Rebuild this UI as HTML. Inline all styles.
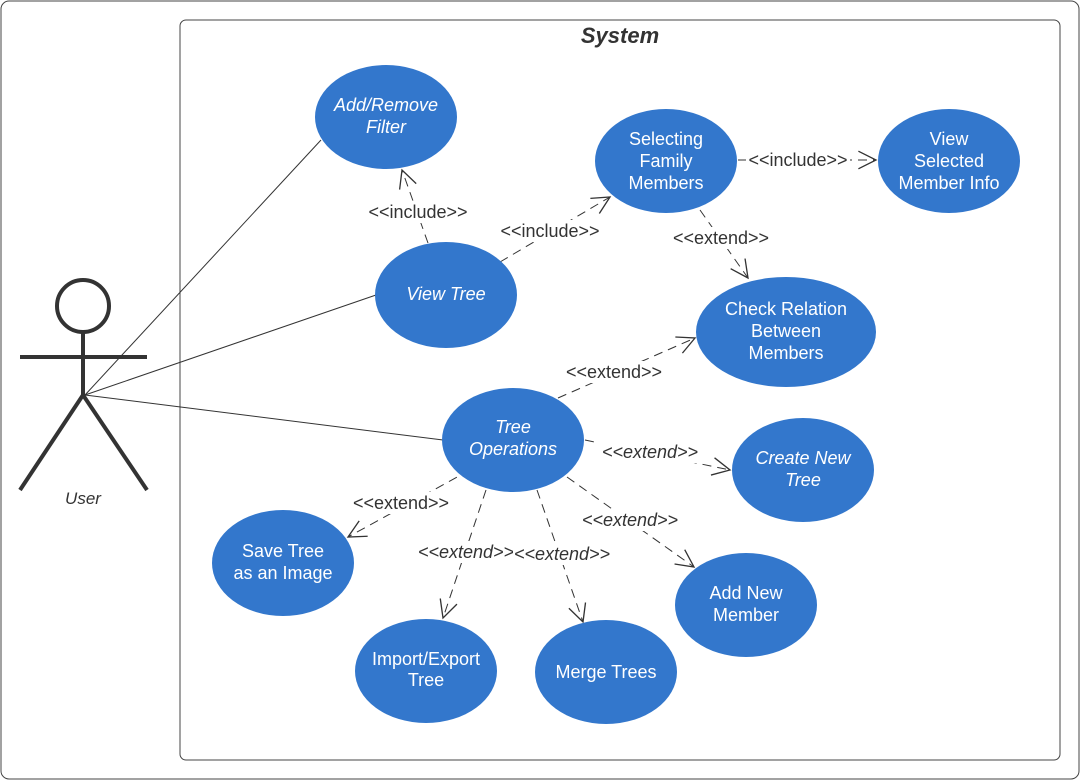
<!DOCTYPE html>
<html><head><meta charset="utf-8"><style>
html,body{margin:0;padding:0;background:#fff;}
svg{display:block;}
text{font-family:"Liberation Sans",sans-serif;}
</style></head><body>
<svg width="1080" height="780" viewBox="0 0 1080 780" xmlns="http://www.w3.org/2000/svg">
<defs>
<marker id="ar" viewBox="0 0 20 20" refX="18" refY="10" markerWidth="22" markerHeight="22" markerUnits="userSpaceOnUse" orient="auto">
<path d="M2,2 L18,10 L2,18" fill="none" stroke="#333" stroke-width="1.2"/>
</marker>
</defs>
<rect x="1" y="1" width="1078" height="778" rx="8" fill="#fff" stroke="#444" stroke-width="1"/>
<rect x="180" y="20" width="880" height="740" rx="6" fill="#fff" stroke="#444" stroke-width="1"/>
<text x="620" y="43" text-anchor="middle" font-size="22" font-weight="bold" font-style="italic" fill="#333">System</text>

<g stroke="#333" stroke-width="4" fill="none">
<circle cx="83" cy="306" r="26" fill="#fff"/>
<line x1="83" y1="332" x2="83" y2="395"/>
<line x1="20" y1="357" x2="147" y2="357"/>
<line x1="83" y1="395" x2="20" y2="490"/>
<line x1="83" y1="395" x2="147" y2="490"/>
</g>
<text x="83" y="504" text-anchor="middle" font-size="17" font-style="italic" fill="#333">User</text>

<g stroke="#333" stroke-width="1">
<line x1="85" y1="395" x2="321" y2="140"/>
<line x1="85" y1="395" x2="376" y2="295"/>
<line x1="85" y1="395" x2="443" y2="440"/>
</g>

<g stroke="#333" stroke-width="1" stroke-dasharray="9,6" fill="none" marker-end="url(#ar)">
<line x1="428" y1="243" x2="402" y2="170"/>
<line x1="500" y1="262" x2="610" y2="197"/>
<line x1="738" y1="160" x2="876" y2="160"/>
<line x1="700" y1="210" x2="748" y2="278"/>
<line x1="558" y1="398" x2="695" y2="338"/>
<line x1="585" y1="440" x2="730" y2="470"/>
<line x1="470" y1="470" x2="348" y2="537"/>
<line x1="486" y1="490" x2="443" y2="618"/>
<line x1="537" y1="490" x2="583" y2="622"/>
<line x1="567" y1="477" x2="694" y2="567"/>
</g>

<g font-size="18" fill="#333" text-anchor="middle">
<g>
<rect x="366" y="201" width="104" height="22" fill="#fff"/>
<text x="418" y="218">&lt;&lt;include&gt;&gt;</text>
<rect x="498" y="220" width="104" height="22" fill="#fff"/>
<text x="550" y="237">&lt;&lt;include&gt;&gt;</text>
<rect x="746" y="149" width="104" height="22" fill="#fff"/>
<text x="798" y="166">&lt;&lt;include&gt;&gt;</text>
<rect x="669" y="227" width="104" height="22" fill="#fff"/>
<text x="721" y="244">&lt;&lt;extend&gt;&gt;</text>
<rect x="562" y="361" width="104" height="22" fill="#fff"/>
<text x="614" y="378">&lt;&lt;extend&gt;&gt;</text>
<rect x="349" y="492" width="104" height="22" fill="#fff"/>
<text x="401" y="509">&lt;&lt;extend&gt;&gt;</text>
</g>
<g font-style="italic">
<rect x="599" y="441" width="102" height="22" fill="#fff"/>
<text x="650" y="458">&lt;&lt;extend&gt;&gt;</text>
<rect x="579" y="509" width="102" height="22" fill="#fff"/>
<text x="630" y="526">&lt;&lt;extend&gt;&gt;</text>
<rect x="415" y="541" width="100" height="22" fill="#fff"/>
<text x="466" y="558">&lt;&lt;extend&gt;&gt;</text>
<rect x="513" y="543" width="100" height="22" fill="#fff"/>
<text x="562" y="560">&lt;&lt;extend&gt;&gt;</text>
</g>
</g>

<g fill="#3377cc">
<ellipse cx="386" cy="117" rx="71" ry="52"/>
<ellipse cx="666" cy="161" rx="71" ry="52"/>
<ellipse cx="949" cy="161" rx="71" ry="52"/>
<ellipse cx="446" cy="295" rx="71" ry="53"/>
<ellipse cx="786" cy="332" rx="90" ry="55"/>
<ellipse cx="513" cy="440" rx="71" ry="52"/>
<ellipse cx="803" cy="470" rx="71" ry="52"/>
<ellipse cx="283" cy="563" rx="71" ry="53"/>
<ellipse cx="746" cy="605" rx="71" ry="52"/>
<ellipse cx="426" cy="671" rx="71" ry="52"/>
<ellipse cx="606" cy="672" rx="71" ry="52"/>
</g>
<g fill="#fff" font-size="18" text-anchor="middle">
<g font-style="italic">
<text x="386" y="111">Add/Remove</text><text x="386" y="133">Filter</text>
<text x="446" y="300">View Tree</text>
<text x="513" y="433">Tree</text><text x="513" y="455">Operations</text>
<text x="803" y="464">Create New</text><text x="803" y="486">Tree</text>
</g>
<text x="666" y="145">Selecting</text><text x="666" y="167">Family</text><text x="666" y="189">Members</text>
<text x="949" y="145">View</text><text x="949" y="167">Selected</text><text x="949" y="189">Member Info</text>
<text x="786" y="315">Check Relation</text><text x="786" y="337">Between</text><text x="786" y="359">Members</text>
<text x="283" y="557">Save Tree</text><text x="283" y="579">as an Image</text>
<text x="746" y="599">Add New</text><text x="746" y="621">Member</text>
<text x="426" y="665">Import/Export</text><text x="426" y="686">Tree</text>
<text x="606" y="678">Merge Trees</text>
</g>
</svg>
</body></html>
